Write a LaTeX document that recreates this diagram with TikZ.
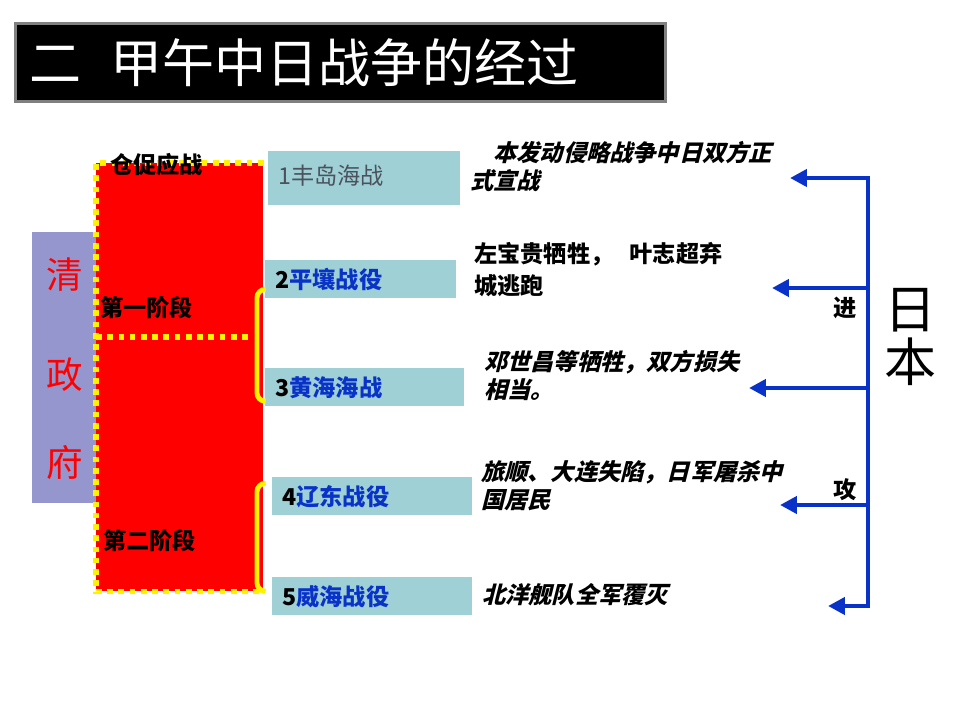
\documentclass[tikz,border=0pt]{standalone}
\usepackage{fontspec}
\usepackage{xcolor}
\usepackage{tikz}
\usetikzlibrary{arrows.meta, positioning, calc}
\setmainfont{Noto Sans CJK SC}
\newfontfamily\cjk{Noto Sans CJK SC}
\newfontfamily\cjkslant[FakeSlant=0.25]{Noto Sans CJK SC}
\definecolor{govpurple}{RGB}{150,150,206}
\definecolor{battlecyan}{RGB}{158,208,213}
\definecolor{japanblue}{RGB}{8,50,200}
\definecolor{namegray}{RGB}{75,82,92}

\begin{document}
\begin{tikzpicture}[x=0.025cm, y=-0.025cm,
  titlebox/.style={fill=black, draw=gray, line width=2pt, minimum width=16.25cm,
    minimum height=1.95cm, text width=15.55cm, inner xsep=0.35cm, align=left,
    text=white, font=\cjk\fontsize{37}{40}\selectfont},
  govbox/.style={fill=govpurple, inner sep=0pt, minimum width=1.6cm, minimum height=6.775cm},
  govchar/.style={text=red, inner sep=0pt, font=\cjk\fontsize{26}{28}\selectfont},
  battle/.style={fill=battlecyan, inner xsep=0.25cm, inner ysep=0pt, align=left,
    minimum height=0.95cm, anchor=north west, font=\cjk\bfseries\fontsize{16.5}{19}\selectfont},
  stagelabel/.style={anchor=west, inner sep=0pt, font=\cjk\bfseries\fontsize{16.5}{19}\selectfont},
  note/.style={anchor=north west, inner sep=0pt, align=left,
    font=\cjkslant\bfseries\fontsize{16.5}{20}\selectfont},
  dotborder/.style={yellow, line width=4pt, dash pattern=on 4pt off 4pt},
  bracket/.style={yellow, line width=3.5pt, rounded corners=6pt},
  jpline/.style={japanblue, line width=3pt},
  jparrow/.style={jpline, -{Triangle[length=12pt, width=12pt]}}
]
  \useasboundingbox (0,0) rectangle (960,720);
  \node[titlebox, anchor=north west] (title) at (14,22) {二\hspace{0.55em}甲午中日战争的经过};

  % Qing government and the two stages
  \node[govbox, anchor=north west] (gov) at (32,232) {};
  \foreach \c/\y [count=\i] in {清/275, 政/375, 府/463}
    \node[govchar] (gov\i) at (65,\y) {\c};
  \node[fill=red, inner sep=0pt, minimum width=4.175cm, minimum height=10.7cm,
    anchor=north west] (stage) at (96,163) {};
  \draw[dotborder] (stage.north east) -- (stage.north west) -- (stage.south west) -- (stage.south east);
  \draw[dotborder] (stage.west |- 0,337) -- (253,337);
  \node[stagelabel] (hasty) at (110,165) {仓促应战};
  \node[stagelabel] (first) at (100,308) {第一阶段};
  \node[stagelabel] (second) at (103,541) {第二阶段};

  % battles
  \node[battle, minimum height=1.35cm, text width=4.3cm] (b1) at (268,151)
    {\raisebox{5pt}{\mdseries\color{namegray}1丰岛海战}};
  \foreach \n/\x/\y/\w/\t in {2/265/260/4.275/平壤战役, 3/265/368/4.475/黄海海战,
      4/272/477/4.5/辽东战役, 5/272/577/4.5/威海战役}
    \node[battle, text width=\w cm] (b\n) at (\x,\y) {\n\textcolor{japanblue}{\t}};
  \draw[bracket] ($(b2.west)+(-2,10)$) -- ++(-6,0) |- ($(b3.west)+(-2,14)$);
  \draw[bracket] ($(b4.west)+(-9,-13)$) -- ++(-6,0) |- ($(b5.west)+(-9,-5)$);

  % results
  \node[note] (d1) at (470,141) {\hspace*{1em}本发动侵略战争中日双方正\\式宣战};
  \node[note, font=\cjk\bfseries\fontsize{16.5}{23}\selectfont] (d2) at (474,242)
    {左宝贵牺牲，\hspace{0.7em}叶志超弃\\城逃跑};
  \node[note] (d3) at (484,350) {邓世昌等牺牲，双方损失\\相当。};
  \node[note] (d4) at (481,460) {旅顺、大连失陷，日军屠杀中\\国居民};
  \node[note] (d5) at (482,583) {北洋舰队全军覆灭};

  % Japan
  \foreach \n/\y/\t in {1/178/790, 2/288/772, 3/388/749, 4/505/780, 5/606/828} {
    \coordinate (s\n) at (868,\y);
    \coordinate (t\n) at (\t,\y);
    \draw[jparrow] (s\n) -- (t\n);
  }
  \draw[jpline, line cap=rect] (s1) -- (s5);
  \node[stagelabel, anchor=center] (advance) at (845,308) {进};
  \node[stagelabel, anchor=center] (attack) at (845,490) {攻};
  \node[inner sep=0pt, align=center, font=\cjk\fontsize{37}{38}\selectfont] (japan) at (911,337) {日\\本};
\end{tikzpicture}
\end{document}
